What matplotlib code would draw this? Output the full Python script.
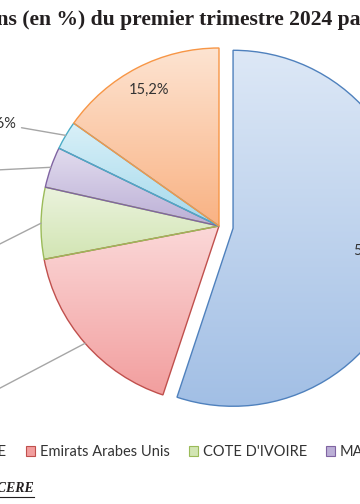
import numpy as np
import matplotlib
matplotlib.use("Agg")
import matplotlib.pyplot as plt
from matplotlib.patches import Patch
from matplotlib.lines import Line2D
from matplotlib.colors import to_rgb

# data (slices go clockwise from the top)
pays = ["SUISSE", "Emirats Arabes Unis", "COTE D'IVOIRE", "MALI", "INDE", "Autres"]
parts = [55.1, 16.9, 6.5, 3.7, 2.6, 15.2]
etiquettes = ["55,1%", "16,9%", "6,5%", "3,7%", "2,6%", "15,2%"]
titre = "Répartition des exportations (en %) du premier trimestre 2024 par pays de destination"
source = "Source : CERE"

# office-like colours: edge, gradient top, gradient bottom
bords = ["#4F81BD", "#C0504D", "#9BBB59", "#8064A2", "#4BACC6", "#F79646"]
haut = ["#DDE8F6", "#FBD8D8", "#EBF3DE", "#E2DCEE", "#D9F0F8", "#FDE4D2"]
bas = ["#A2BFE5", "#F29E9E", "#D2E5B3", "#BBAFD6", "#A4D9EC", "#F9B283"]

W, H = 360, 504
cx, cy, R = 219, 226, 178   # pie centre / radius in pixels (top-left origin)

fig = plt.figure(figsize=(W / 100, H / 100), dpi=100)
ax = fig.add_axes([0, 0, 1, 1])

def px(x, y):
    # pixel (top-left origin) -> data coords
    return (x - cx) / R, (cy - y) / R

wedges, _ = ax.pie(parts, startangle=90, counterclock=False,
                   explode=[0.08, 0, 0, 0, 0, 0], radius=1,
                   colors=bords, wedgeprops=dict(linewidth=1.0))

# vertical gradient inside each slice
for w, c0, c1, cb in zip(wedges, haut, bas, bords):
    ext = w.get_path().get_extents()
    t = np.linspace(0, 1, 256)[:, None, None]
    img = (1 - t) * np.array(to_rgb(c0)) + t * np.array(to_rgb(c1))
    im = ax.imshow(img, extent=(ext.x0, ext.x1, ext.y0, ext.y1), origin="upper",
                   aspect="auto", interpolation="bilinear", zorder=0.5)
    im.set_clip_path(w)
    w.set_facecolor("none")
    w.set_edgecolor(cb)
    w.set_zorder(1)

# label positions
cum = np.cumsum([0] + parts[:-1])
mids = np.deg2rad(90 - (cum + np.array(parts) / 2) * 3.6)
lab_font = dict(family=["Lato", "DejaVu Sans"], fontsize=10.5, color="#333333")

# inside labels
for i, d in [(0, 0.8), (5, 0.86)]:
    c = wedges[i].center
    ax.text(c[0] + d * np.cos(mids[i]), c[1] + d * np.sin(mids[i]), etiquettes[i],
            ha="center", va="center", **lab_font)

# outside labels with leader lines
dehors = {4: px(16, 124), 3: px(-8, 171), 2: px(-8, 256), 1: px(-12, 405)}
for i, xy in dehors.items():
    ax.annotate(etiquettes[i], xy=(np.cos(mids[i]), np.sin(mids[i])), xytext=xy,
                ha="right", va="center",
                arrowprops=dict(arrowstyle="-", color="#A6A6A6", lw=1.0,
                                shrinkA=2, shrinkB=0), **lab_font)

ax.set_xlim(-cx / R, (W - cx) / R)
ax.set_ylim(-(H - cy) / R, cy / R)
ax.axis("off")

# legend
handles = [Patch(facecolor=c1, edgecolor=cb, lw=0.8) for c1, cb in zip(bas, bords)]
leg = fig.legend(handles, pays, loc="center left", bbox_to_anchor=(0, 1 - 452 / H),
                 ncol=6, frameon=False, handlelength=0.65, handleheight=0.65,
                 handletextpad=0.3, columnspacing=1.3, borderaxespad=0,
                 prop=dict(family="Lato", size=10.5))
for txt in leg.get_texts():
    txt.set_color("#333333")

fig.canvas.draw()
bb = leg.legend_handles[1].get_window_extent()
leg.set_bbox_to_anchor(((26 - bb.x0) / W, 1 - 452 / H), transform=fig.transFigure)

# title, cut on both sides like the reference
tfont = dict(family="Liberation Serif", weight="bold", fontsize=15.6, color="#231F20")
tmp = fig.text(0, 0, "Répartition des exportatio", **tfont)
wpre = tmp.get_window_extent(fig.canvas.get_renderer()).width
tmp.remove()
fig.text(-(wpre + 3) / W, 1 - 20 / H, titre, ha="left", va="center", **tfont)

# source, underlined
fig.text(34 / W, 1 - 489 / H, source, ha="right", va="center",
         family="Liberation Serif", weight="bold", style="italic", fontsize=10,
         color="#231F20")
fig.add_artist(Line2D([0, 34 / W], [1 - 497 / H, 1 - 497 / H], color="#231F20", lw=0.8))

fig.savefig("out.png", dpi=100)
